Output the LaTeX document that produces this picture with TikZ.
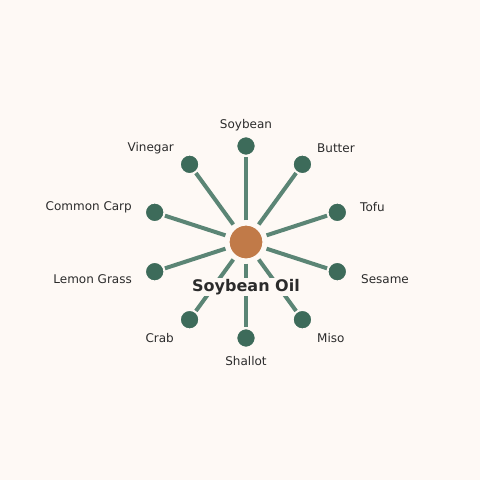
\documentclass[tikz,border=0pt]{standalone}
\usepackage{fontspec}
\setmainfont{DejaVu Sans}
\usetikzlibrary{calc}
\definecolor{bg}{HTML}{FEF9F5}
\definecolor{leaf}{HTML}{3D6B5A}
\definecolor{spoke}{HTML}{5B8575}
\definecolor{hub}{HTML}{C17A48}
\definecolor{ink}{HTML}{2B2B2B}
\tikzset{
  hubnode/.style={circle,fill=hub,draw=bg,line width=1.2pt,minimum size=34pt,inner sep=0pt},
  leafnode/.style={circle,fill=leaf,draw=bg,line width=1.5pt,minimum size=19pt,inner sep=0pt},
  spk/.style={draw=spoke,line width=4pt,shorten <=4pt,shorten >=0.5pt},
  lbl/.style={text=ink,font=\fontsize{12}{14}\selectfont,inner sep=0pt},
}
\begin{document}
\begin{tikzpicture}[x=1pt,y=-1pt]
\fill[bg] (0,0) rectangle (480,480);
\useasboundingbox (0,0) rectangle (480,480);
\node[hubnode] (c) at (246,242) {};
\foreach \n/\a in {soy/90,but/54,tofu/18,ses/-18,miso/-54,shal/-90,crab/-126,lem/-162,carp/162,vin/126}{
  \node[leafnode] (\n) at ($(246,242)+(\a:96 and -96)$) {};
}
\foreach \n in {soy,but,tofu,ses,miso,shal,crab,lem,carp,vin}{
  \draw[spk] (c) -- (\n);
}
\node[hubnode] at (c) {};
\foreach \n in {soy,but,tofu,ses,miso,shal,crab,lem,carp,vin}{
  \node[leafnode] at (\n) {};
}
\node[lbl] (tsoy) at (246,125) {Soybean};
\node[lbl,anchor=west] (tbut) at (317,148) {Butter};
\node[lbl,anchor=west] (ttofu) at (360,207) {Tofu};
\node[lbl,anchor=west] (tses) at (361,279) {Sesame};
\node[lbl,anchor=west] (tmiso) at (317,338) {Miso};
\node[lbl] (tshal) at (246,361) {Shallot};
\node[lbl,anchor=east] (tcrab) at (174,338) {Crab};
\node[lbl,anchor=east] (tlem) at (132,279) {Lemon Grass};
\node[lbl,anchor=east] (tcarp) at (132,207) {Common Carp};
\node[lbl,anchor=east] (tvin) at (174,148) {Vinegar};
\node[fill=bg,text=ink,font=\fontsize{16}{19}\selectfont\bfseries,inner xsep=2pt,inner ysep=1.5pt] (tc) at (246,287) {Soybean Oil};
\end{tikzpicture}
\end{document}
